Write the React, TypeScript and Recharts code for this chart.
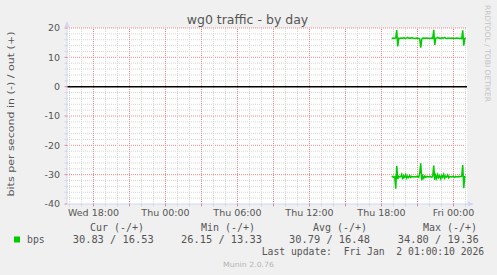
import { LineChart, Line, XAxis, YAxis, CartesianGrid, ReferenceLine, ReferenceDot } from 'recharts';

const W = 497;
const H = 275;

// hours since Wed 00:00
const X_MIN = 15.7917;
const X_MAX = 49.125;
const SAMPLE_START = 42.853;
const SAMPLE_STEP = 5 / 60;

const OUT_BPS = [
  16.4, 16.6, 16.5, 16.5, 16.6, 19.3, 13.7, 16.5, 16.4, 16.6,
  16.5, 16.5, 16.7, 16.5, 16.4, 16.6, 16.8, 16.5, 16.6, 16.5,
  16.7, 16.5, 16.5, 16.4, 16.5, 16.6, 16.5, 16.4, 16.3, 13.3,
  16.2, 16.5, 16.6, 16.5, 16.5, 16.6, 16.5, 16.5, 16.4, 16.5,
  16.6, 16.5, 19.36, 14.2, 16.5, 16.6, 16.8, 16.5, 16.6, 16.4,
  16.7, 16.5, 16.6, 16.8, 16.5, 16.4, 16.6, 16.5, 16.5, 16.5,
  16.6, 16.5, 16.4, 16.5, 16.5, 16.6, 16.5, 16.5, 16.4, 16.5,
  16.4, 19.2, 14.0, 16.4, 16.53,
];

const IN_BPS = [
  -30.8, -30.6, -30.9, -30.7, -34.8, -27.0, -31.5, -30.6, -30.8, -30.7,
  -29.9, -31.6, -30.4, -30.9, -30.0, -31.2, -30.5, -31.0, -30.3, -30.9,
  -30.6, -30.8, -30.7, -30.7, -30.8, -30.6, -30.7, -30.9, -29.4, -26.15,
  -31.9, -30.4, -31.2, -30.5, -30.9, -30.6, -30.7, -30.8, -30.6, -30.7,
  -30.9, -30.5, -26.9, -31.8, -30.2, -31.3, -30.0, -31.0, -30.4, -31.4,
  -30.3, -30.9, -29.9, -31.2, -30.5, -30.8, -30.1, -31.1, -30.6, -30.7,
  -30.8, -30.6, -30.7, -30.9, -30.6, -30.7, -30.8, -30.6, -30.7, -30.6,
  -30.5, -26.7, -34.6, -30.7, -30.83,
];

const LABEL_HOURS = [18, 24, 30, 36, 42, 48];
const LABEL_TEXT = ['Wed 18:00', 'Thu 00:00', 'Thu 06:00', 'Thu 12:00', 'Thu 18:00', 'Fri 00:00'];
const HOUR_TICKS = Array.from({ length: 34 }, (_, i) => 16 + i);
const Y_TICKS = Array.from({ length: 31 }, (_, i) => 20 - i * 2);

const LEGEND_HEAD = ['Cur (-/+)', 'Min (-/+)', 'Avg (-/+)', 'Max (-/+)'];
const LEGEND_VALUES = ['30.83 / 16.53', '26.15 / 13.33', '30.79 / 16.48', '34.80 / 19.36'];

const data = OUT_BPS.map((v, i) => ({ t: SAMPLE_START + i * SAMPLE_STEP, out: v, in: IN_BPS[i] }));

const GRID = '#d6d6d6';
const MGRID = '#ee8888';
const AXIS = '#cfd6f8';
const FONT = '#555555';
const GREEN = '#00cc00';
const SANS = '"DejaVu Sans", sans-serif';
const MONO = '"DejaVu Sans Mono", monospace';

// one flat list of grid lines, each with its own colour
const gridLines = [
  ...Y_TICKS.filter(v => v !== 0 && v !== -40).map(v => ({ id: `y${v}`, y: v, color: v % 10 === 0 ? MGRID : GRID })),
  ...HOUR_TICKS.map(h => ({ id: `x${h}`, x: h, color: h % 3 === 0 ? MGRID : GRID })),
];

const renderXTick = ({ x, y, payload }: any) => {
  const h = payload.value as number;
  const li = LABEL_HOURS.indexOf(h);
  return (
    <g>
      <line x1={x} x2={x} y1={y} y2={y + 2.5} stroke={h % 3 === 0 ? MGRID : GRID} />
      {li >= 0 && (
        <text x={x} y={y} dy={11.8} textAnchor="middle" fontFamily={SANS} fontSize={9.5} fill={FONT}>
          {LABEL_TEXT[li]}
        </text>
      )}
    </g>
  );
};

const renderYTick = ({ x, y, payload }: any) => {
  const v = payload.value as number;
  const major = v % 10 === 0;
  return (
    <g>
      <line x1={x - 2.5} x2={x} y1={y} y2={y} stroke={major ? MGRID : GRID} />
      {major && (
        <text x={x - 7} y={y} dy={3.4} textAnchor="end" fontFamily={SANS} fontSize={9.5} fill={FONT}>
          {`${v}`}
        </text>
      )}
    </g>
  );
};

const upArrow = ({ cx, cy }: any) => (
  <path d={`M${cx},${cy - 7} L${cx + 2.5},${cy - 1} L${cx - 2.5},${cy - 1} Z`} fill={AXIS} />
);

const rightArrow = ({ cx, cy }: any) => (
  <g>
    <line x1={cx} x2={cx + 2} y1={cy} y2={cy} stroke={AXIS} />
    <path d={`M${cx + 7},${cy} L${cx + 1},${cy - 2.5} L${cx + 1},${cy + 2.5} Z`} fill={AXIS} />
  </g>
);

const legendX = [90, 201, 313, 423];
const valueX = [72.7, 181, 289, 397.7];

export default function App() {
  return (
    <div style={{ position: 'absolute', left: 0, top: 0, width: W, height: H, background: '#f0f0f0', overflow: 'hidden' }}>
      <LineChart width={W} height={H} data={data} margin={{ top: 28, right: 30, bottom: 0, left: 0 }}>
        <CartesianGrid fill="#ffffff" horizontal={false} vertical={false} />
        <XAxis
          dataKey="t"
          type="number"
          domain={[X_MIN, X_MAX]}
          allowDataOverflow
          ticks={HOUR_TICKS}
          interval={0}
          tick={renderXTick}
          tickLine={false}
          tickSize={0}
          tickMargin={0}
          height={71}
          axisLine={{ stroke: AXIS }}
        />
        <YAxis
          type="number"
          domain={[-40, 20]}
          allowDataOverflow
          ticks={Y_TICKS}
          interval={0}
          tick={renderYTick}
          tickLine={false}
          tickSize={0}
          tickMargin={0}
          width={67}
          axisLine={{ stroke: AXIS }}
        />
        {gridLines.map(g => (
          <ReferenceLine
            key={g.id}
            x={g.x}
            y={g.y}
            stroke={g.color}
            strokeWidth={1}
            strokeDasharray="1 1"
          />
        ))}
        <ReferenceLine key="zero" y={0} stroke="#000000" strokeWidth={1.5} />
        <ReferenceDot x={X_MIN} y={20} ifOverflow="visible" shape={upArrow} />
        <ReferenceDot x={X_MAX} y={-40} ifOverflow="visible" shape={rightArrow} />
        <Line dataKey="out" stroke={GREEN} strokeWidth={1.5} dot={false} isAnimationActive={false} />
        <Line dataKey="in" stroke={GREEN} strokeWidth={1.5} dot={false} isAnimationActive={false} />
      </LineChart>

      <svg width={W} height={H} style={{ position: 'absolute', left: 0, top: 0, pointerEvents: 'none' }}>
        <text x={247.5} y={24} textAnchor="middle" fontFamily={SANS} fontSize={12.5} fill={FONT}>
          wg0 traffic - by day
        </text>
        <text
          x={13.5}
          y={114}
          transform="rotate(-90 13.5 114)"
          textAnchor="middle"
          fontFamily={SANS}
          fontSize={9.5}
          fill={FONT}
          textLength={165}
          lengthAdjust="spacingAndGlyphs"
        >
          bits per second in (-) / out (+)
        </text>
        <text
          x={484.5}
          y={53.5}
          transform="rotate(90 484.5 53.5)"
          textAnchor="middle"
          fontFamily={SANS}
          fontSize={7.5}
          fill="#c4c4c4"
          textLength={97}
          lengthAdjust="spacingAndGlyphs"
        >
          RRDTOOL / TOBI OETIKER
        </text>

        {LEGEND_HEAD.map((s, i) => (
          <text key={s} x={legendX[i]} y={231} fontFamily={MONO} fontSize={9.8} fill={FONT} textLength={54} lengthAdjust="spacingAndGlyphs">
            {s}
          </text>
        ))}
        <rect x={14} y={236.5} width={6} height={6} fill={GREEN} />
        <text x={27} y={242.8} fontFamily={MONO} fontSize={9.8} fill={FONT}>bps</text>
        {LEGEND_VALUES.map((s, i) => (
          <text key={s} x={valueX[i]} y={242.8} fontFamily={MONO} fontSize={9.8} fill={FONT} textLength={81} lengthAdjust="spacingAndGlyphs">
            {s}
          </text>
        ))}
        <text x={261.7} y={254.8} fontFamily={MONO} fontSize={9.8} fill={FONT} style={{ whiteSpace: 'pre' }} textLength={222.5} lengthAdjust="spacingAndGlyphs">
          {'Last update:  Fri Jan  2 01:00:10 2026'}
        </text>
        <text x={223} y={267} fontFamily={SANS} fontSize={7.2} fill="#b4b4b4" textLength={51} lengthAdjust="spacingAndGlyphs">
          Munin 2.0.76
        </text>
      </svg>
    </div>
  );
}
